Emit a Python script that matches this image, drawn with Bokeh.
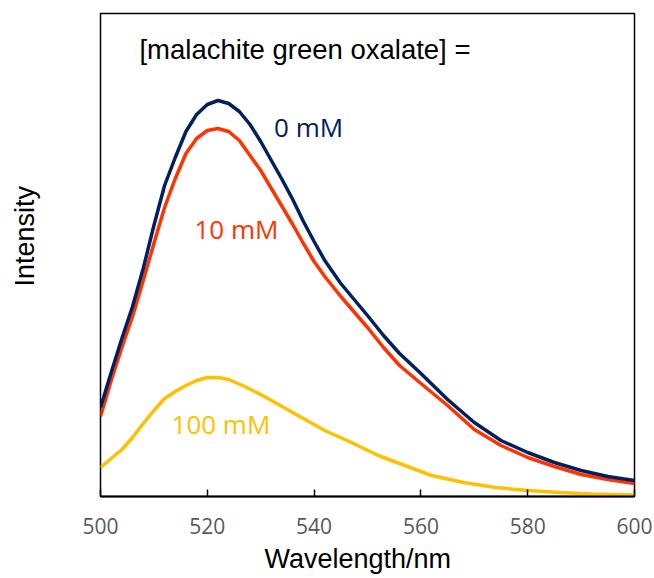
from bokeh.plotting import figure
from bokeh.models import Range1d, Label, FixedTicker, Title
from bokeh.embed import file_html
from bokeh.resources import INLINE

# --- data (intensity in arbitrary units) ---
wl_0mM = [500, 502, 504, 506, 508, 510, 512, 514, 516, 518, 520, 522, 524, 526, 528,
          530, 532, 534, 536, 538, 540, 542, 545, 550, 553, 556, 560, 565, 570, 575,
          580, 585, 590, 595, 600]
int_0mM = [89, 124, 158, 190, 228, 271, 311, 339, 365, 382, 392, 396, 393, 385, 372,
           355, 336, 317, 297, 275, 255, 236, 213, 181, 161, 143, 123, 97, 74, 56,
           44, 34, 26, 20, 16]

wl_10mM = [500, 502, 504, 506, 508, 510, 512, 514, 516, 518, 520, 522, 524, 526, 528,
           530, 532, 534, 536, 538, 540, 542, 545, 550, 553, 556, 560, 565, 570, 575,
           580, 585, 590, 595, 600]
int_10mM = [80, 116, 149, 180, 216, 253, 289, 318, 343, 358, 366, 368, 365, 356, 341,
            326, 308, 290, 272, 253, 235, 220, 200, 169, 149, 131, 113, 91, 67, 51,
            39, 30, 22, 17, 13]

wl_100mM = [500, 502, 504, 506, 508, 510, 512, 514, 516, 518, 520, 522, 524, 527, 530,
            534, 538, 542, 547, 552, 556, 562, 568, 574, 580, 586, 592, 600]
int_100mM = [29, 38, 47, 59, 73, 86, 98, 105, 111, 116, 119, 119, 117, 110, 102,
             90, 78, 66, 54, 41, 33, 21, 14, 9, 6, 4, 2.5, 1.5]

x_ticks = [500, 520, 540, 560, 580, 600]
series_labels = ["0 mM", "10 mM", "100 mM"]
series_colors = ["#002060", "#FF3300", "#FFC000"]
title_text = "[malachite green oxalate] ="
x_title = "Wavelength/nm"
y_title = "Intensity"

p = figure(width=654, height=578, output_backend="svg", toolbar_location=None,
           x_range=Range1d(500, 600), y_range=Range1d(0, 483),
           min_border_left=100, min_border_right=20, min_border_top=13,
           min_border_bottom=82)
p.grid.visible = False
p.background_fill_color = "white"
p.border_fill_color = "white"
p.outline_line_color = "black"
p.outline_line_width = 1.5

xa = p.xaxis[0]
xa.ticker = FixedTicker(ticks=x_ticks)
xa.minor_tick_line_color = None
xa.major_tick_in = 7
xa.major_tick_out = 0
xa.major_tick_line_color = "black"
xa.major_tick_line_width = 1.5
xa.axis_line_color = "black"
xa.axis_line_width = 2
xa.major_label_text_font = "Open Sans"
xa.major_label_text_font_size = "21px"
xa.major_label_text_color = "#595959"
xa.major_label_standoff = 21

ya = p.yaxis[0]
ya.ticker = FixedTicker(ticks=[])
ya.major_label_text_font_size = "0px"
ya.minor_tick_line_color = None
ya.major_tick_line_color = None
ya.major_tick_in = 0
ya.major_tick_out = 0
ya.major_label_standoff = 0
ya.axis_line_color = None
# leading no-break spaces lift the title a little above the frame centre, as in the original
ya.axis_label = "\u00a0" * 5 + y_title
ya.axis_label_text_font = "Liberation Sans"
ya.axis_label_text_font_size = "27px"
ya.axis_label_text_font_style = "normal"
ya.axis_label_text_color = "black"
ya.axis_label_standoff = 61

# x title as a side title so it can sit slightly left of centre like the original
p.add_layout(Title(text=x_title, align="left", offset=164, standoff=10,
                   text_font="Liberation Sans", text_font_size="27px",
                   text_font_style="normal", text_color="black"), "below")

# draw lower curves first so the upper ones sit on top
p.line(wl_100mM, int_100mM, line_color=series_colors[2], line_width=3.5)
p.line(wl_10mM, int_10mM, line_color=series_colors[1], line_width=3.5)
p.line(wl_0mM, int_0mM, line_color=series_colors[0], line_width=3.5)

p.add_layout(Label(x=507.3, y=447, text=title_text, text_font="Liberation Sans",
                   text_font_size="27.5px", text_color="black",
                   text_baseline="alphabetic"))
label_pos = [(532.5, 370), (517.6, 268), (513.3, 73)]
for (lx, ly), txt, col in zip(label_pos, series_labels, series_colors):
    p.add_layout(Label(x=lx, y=ly, text=txt, text_font="Open Sans",
                       text_font_size="26px", text_color=col,
                       text_baseline="alphabetic"))

open("out.html", "w").write(file_html(p, INLINE))
